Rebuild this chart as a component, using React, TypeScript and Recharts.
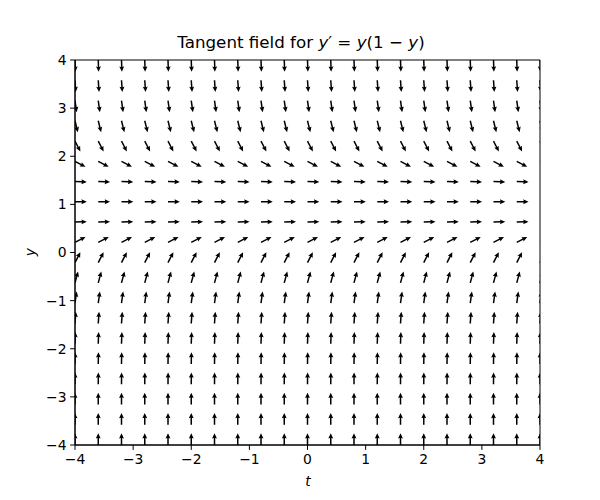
import React from "react";
import { ScatterChart, Scatter, XAxis, YAxis, ReferenceArea } from "recharts";

// grid of sample times (columns)
const tValues = [-4, -3.6, -3.2, -2.8, -2.4, -2, -1.6, -1.2, -0.8, -0.4, 0, 0.4, 0.8, 1.2, 1.6, 2, 2.4, 2.8, 3.2, 3.6, 4];
// grid of y values (rows)
const yValues = [-4, -3.579, -3.158, -2.737, -2.316, -1.895, -1.474, -1.053, -0.632, -0.211, 0.211, 0.632, 1.053, 1.474, 1.895, 2.316, 2.737, 3.158, 3.579, 4];
// on-screen arrow angle (degrees, positive = up) read for each row
const rowAngles = [90, 90, 90, 89.5, 89, 88, 86, 82, 75, 63, 27, 2, 0, -2, -28, -63, -76, -82, -86, -88];
const xTicks = [-4, -3, -2, -1, 0, 1, 2, 3, 4];
const yTicks = [-4, -3, -2, -1, 0, 1, 2, 3, 4];

const data = yValues.flatMap((y, i) => tValues.map((t) => ({ t, y, angle: rowAngles[i] })));

const FONT = "'DejaVu Sans', sans-serif";
const fmt = (v: number) => String(v).replace("-", "\u2212");

const Arrow = (props: any) => {
  const { cx, cy, payload } = props;
  if (cx == null || cy == null) return null;
  const L = 11.8, w = 1.5, hl = 5.4, hal = 4.8, hw = 4.9;
  const pts: [number, number][] = [
    [0, -w / 2], [L - hal, -w / 2], [L - hl, -hw / 2], [L, 0],
    [L - hl, hw / 2], [L - hal, w / 2], [0, w / 2],
  ];
  const a = (payload.angle * Math.PI) / 180;
  const c = Math.cos(a), s = -Math.sin(a);
  const d = pts
    .map(([x, y], k) => `${k === 0 ? "M" : "L"}${(cx + x * c - y * s).toFixed(2)},${(cy + x * s + y * c).toFixed(2)}`)
    .join(" ") + " Z";
  return <path d={d} fill="#000" stroke="none" />;
};

export default function App() {
  return (
    <div style={{ position: "absolute", left: 0, top: 0, width: 600, height: 500, background: "#fff", fontFamily: FONT }}>
      <div style={{ position: "absolute", left: 0, width: 600, top: 32, textAlign: "center", fontSize: 16.7, lineHeight: "20px", color: "#000" }}>
        <span style={{ position: "relative", left: 1 }}>
          Tangent field for <i>y</i>{"\u2032"} = <i>y</i>(1 {"\u2212"} <i>y</i>)
        </span>
      </div>
      <ScatterChart width={600} height={500} margin={{ top: 60, right: 60, bottom: 25, left: 35 }}>
        <XAxis
          type="number"
          dataKey="t"
          domain={[-4, 4]}
          ticks={xTicks}
          allowDataOverflow
          height={30}
          tickSize={4.9}
          tickMargin={4}
          tickFormatter={fmt}
          axisLine={{ stroke: "#000" }}
          tickLine={{ stroke: "#000" }}
          tick={{ fill: "#000", fontSize: 13.9, fontFamily: FONT }}
        />
        <YAxis
          type="number"
          dataKey="y"
          domain={[-4, 4]}
          ticks={yTicks}
          allowDataOverflow
          width={40}
          tickSize={4.9}
          tickMargin={3.5}
          tickFormatter={fmt}
          axisLine={{ stroke: "#000" }}
          tickLine={{ stroke: "#000" }}
          tick={{ fill: "#000", fontSize: 13.9, fontFamily: FONT }}
        />
        <Scatter data={data} shape={Arrow} isAnimationActive={false} />
        <ReferenceArea x1={-4} x2={4} y1={-4} y2={4} fill="none" stroke="#000" strokeWidth={1} ifOverflow="visible" />
      </ScatterChart>
      <div style={{ position: "absolute", left: 298, width: 20, top: 473, textAlign: "center", fontSize: 13.9, fontStyle: "italic", lineHeight: "16px" }}>t</div>
      <div style={{ position: "absolute", left: 22, top: 244, width: 16, height: 16, textAlign: "center", fontSize: 13.9, fontStyle: "italic", lineHeight: "16px", transform: "rotate(-90deg)" }}>y</div>
    </div>
  );
}
